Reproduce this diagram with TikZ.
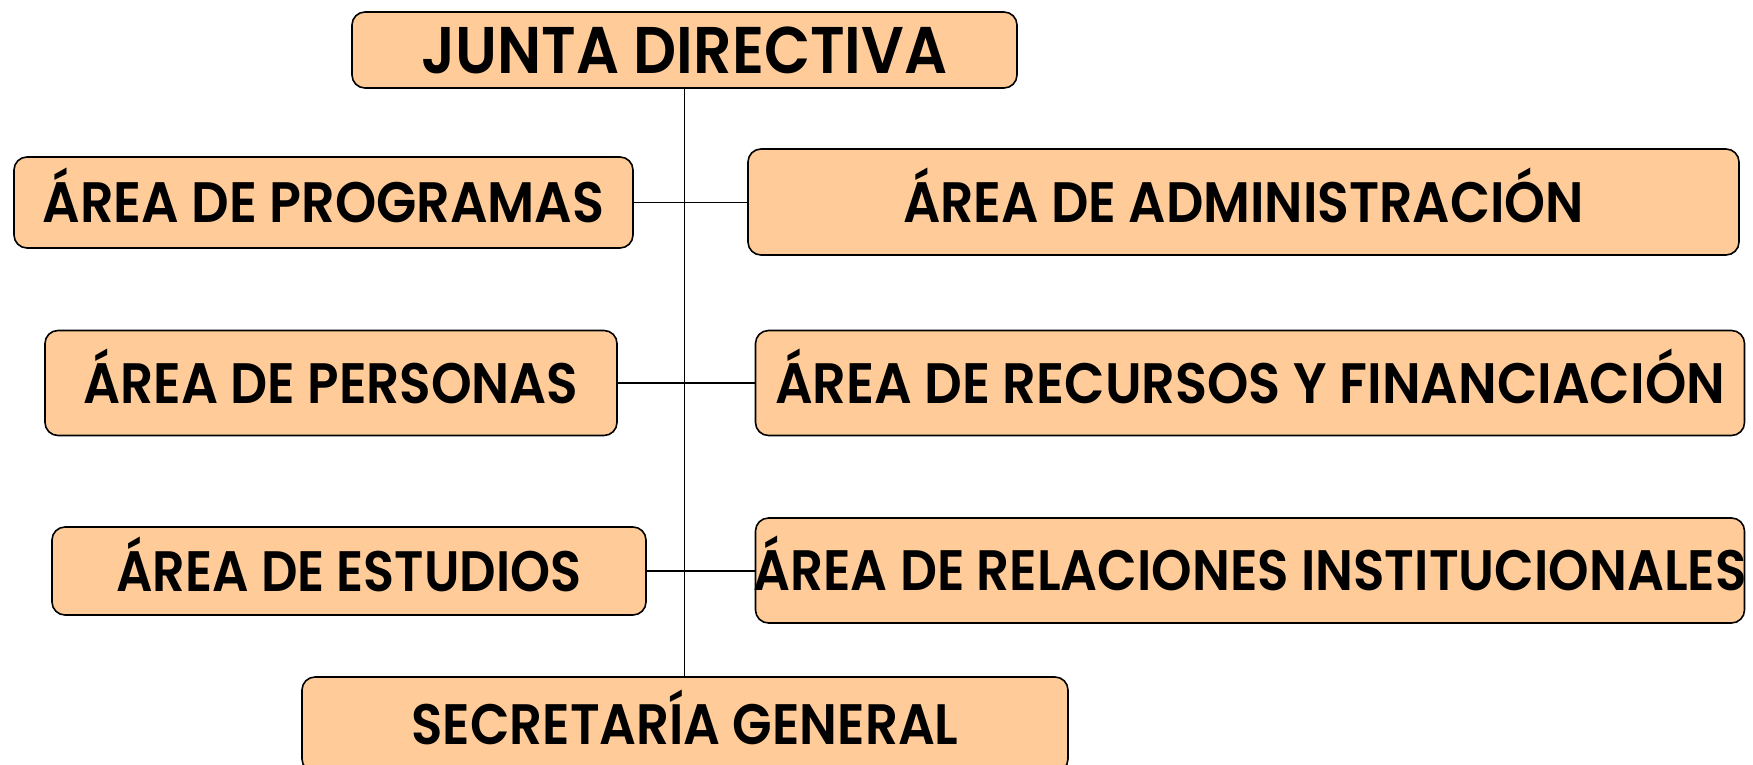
\documentclass[tikz,border=0pt]{standalone}
\usepackage{fontspec}
\usepackage{graphicx}
\setmainfont{Poppins}[BoldFont={Poppins SemiBold}]
\definecolor{peach}{HTML}{FFCC99}
\newlength\tlen
\newcommand\fitto[2]{\settowidth{\tlen}{#2}\pgfmathsetmacro\fitsx{#1/\tlen}\makebox[0pt][c]{\scalebox{\fitsx}[1]{#2}}}
\tikzset{
  orgbox/.style={draw=black, line width=1.6pt, fill=peach, rounded corners=13pt,
    inner sep=0pt, text height=40pt, text depth=0pt,
    font=\bfseries\fontsize{57}{60}\selectfont},
  topbox/.style={orgbox, text height=46pt, font=\bfseries\fontsize{66}{70}\selectfont},
  link/.style={draw=black, line width=1.6pt}
}
\begin{document}
\begin{tikzpicture}[x=1pt,y=-1pt]
\useasboundingbox (0,0) rectangle (1753,764);
\fill[white] (0,0) rectangle (1753,764);
\node[topbox, minimum width=665pt, minimum height=76pt] (J) at (684.5,50) {\fitto{526}{JUNTA DIRECTIVA}};
\node[orgbox, minimum width=619pt, minimum height=91pt] (P) at (323.5,202.5) {\fitto{562}{ÁREA DE PROGRAMAS}};
\node[orgbox, minimum width=991pt, minimum height=106pt] (A) at (1243.5,202) {\fitto{681}{ÁREA DE ADMINISTRACIÓN}};
\node[orgbox, minimum width=572pt, minimum height=105pt] (Pe) at (331,383) {\fitto{495}{ÁREA DE PERSONAS}};
\node[orgbox, minimum width=989pt, minimum height=105pt] (R) at (1250,383) {\fitto{950}{ÁREA DE RECURSOS Y FINANCIACIÓN}};
\node[orgbox, minimum width=594pt, minimum height=88pt] (E) at (349,571) {\fitto{465}{ÁREA DE ESTUDIOS}};
\node[orgbox, minimum width=989pt, minimum height=105pt] (Rel) at (1250,570.5) {\fitto{993}{ÁREA DE RELACIONES INSTITUCIONALES}};
\node[orgbox, minimum width=766pt, minimum height=95pt] (S) at (685,724.5) {\fitto{547}{SECRETARÍA GENERAL}};
\draw[link] (J.south) -- (J.south |- S.north);
\draw[link] (P.east) -- (A.west |- P.east);
\draw[link] (Pe.east) -- (R.west);
\draw[link] (E.east) -- (Rel.west |- E.east);
\end{tikzpicture}
\end{document}
